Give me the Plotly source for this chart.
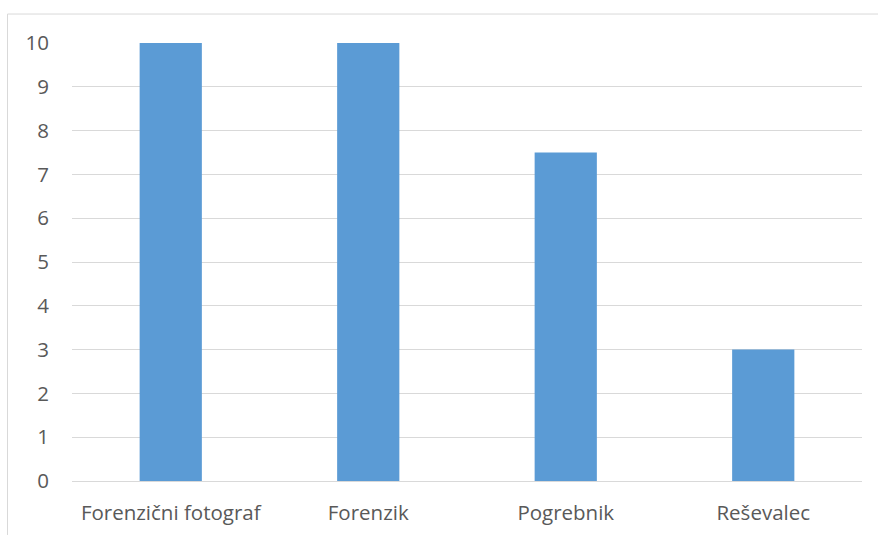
import plotly.graph_objects as go

categories = ["Forenzični fotograf", "Forenzik", "Pogrebnik", "Reševalec"]
values = [10, 10, 7.5, 3]
y_ticks = list(range(0, 11))

W, H = 878, 535
L, R, T, B = 72, 16, 42.5, 54
pw, ph = W - L - R, H - T - B

fig = go.Figure(
    go.Bar(
        x=categories,
        y=values,
        marker=dict(color="#5B9BD5", line=dict(width=0)),
        width=0.315,
    )
)

text_font = dict(family="Open Sans, Liberation Sans, sans-serif", size=20.5, color="#595959")

fig.update_layout(
    width=W,
    height=H,
    margin=dict(l=L, r=R, t=T, b=B, pad=0),
    paper_bgcolor="white",
    plot_bgcolor="white",
    showlegend=False,
    font=text_font,
    xaxis=dict(
        showgrid=False,
        showline=False,
        zeroline=False,
        automargin=False,
        ticks="outside",
        ticklen=13,
        tickcolor="rgba(0,0,0,0)",
        tickfont=text_font,
    ),
    yaxis=dict(
        range=[0, 10],
        tickvals=y_ticks,
        automargin=False,
        showgrid=True,
        gridcolor="#D9D9D9",
        gridwidth=1,
        zeroline=True,
        zerolinecolor="#D9D9D9",
        zerolinewidth=1,
        showline=False,
        ticks="outside",
        ticklen=18,
        tickcolor="rgba(0,0,0,0)",
        tickfont=text_font,
    ),
)

# chart frame: left and top edges of the outer border
x0 = (7.5 - L) / pw
x1 = (W - L) / pw
y_top = 1 + (T - 13.5) / ph
y_bot = -(B) / ph
fig.add_shape(type="line", xref="paper", yref="paper", x0=x0, x1=x1, y0=y_top, y1=y_top,
              line=dict(color="#D9D9D9", width=1))
fig.add_shape(type="line", xref="paper", yref="paper", x0=x0, x1=x0, y0=y_top, y1=y_bot,
              line=dict(color="#D9D9D9", width=1))

fig.write_html("out.html")
